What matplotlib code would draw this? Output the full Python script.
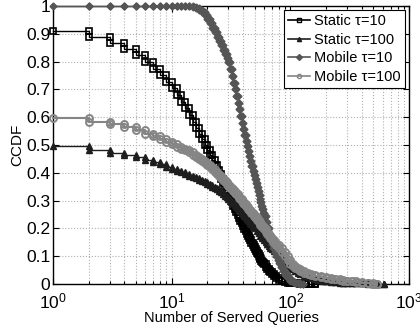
import numpy as np
import matplotlib
matplotlib.use("Agg")
import matplotlib.pyplot as plt
from matplotlib.ticker import FixedLocator, NullFormatter

plt.rcParams['font.family'] = ['Liberation Sans', 'DejaVu Sans']

# CCDF values, at x = number of served queries
static10_x = list(range(1, 61)) + [62, 64, 66, 68, 70, 73, 76, 80, 85, 90, 95, 100,
                                   110, 120, 135, 150, 160]
static10_y = [0.91, 0.89, 0.866, 0.844, 0.823, 0.797, 0.772, 0.75, 0.725, 0.704,
              0.68, 0.656, 0.632, 0.608, 0.584, 0.562, 0.54, 0.52, 0.50, 0.482,
              0.463, 0.445, 0.427, 0.41, 0.394, 0.378, 0.362, 0.347, 0.332, 0.318,
              0.305, 0.293, 0.281, 0.269, 0.258, 0.247, 0.237, 0.227, 0.218, 0.208,
              0.199, 0.19, 0.181, 0.173, 0.165, 0.157, 0.149, 0.141, 0.133, 0.125,
              0.119, 0.113, 0.107, 0.101, 0.095, 0.089, 0.084, 0.08, 0.075, 0.07,
              0.062, 0.055, 0.048, 0.042, 0.036, 0.028, 0.021, 0.015, 0.009, 0.006,
              0.004, 0.003, 0.002, 0.001, 0.0006, 0.0003, 0.0]

static100_x = list(range(1, 51)) + [52, 54, 56, 58, 60, 62, 64, 66, 68, 70, 73, 76, 80,
                                    85, 90, 95, 100, 105, 110, 115, 120, 130, 140, 150,
                                    160, 170, 180, 190, 200, 220, 240, 260, 280, 300,
                                    330, 360, 400, 450, 500, 550, 620]
static100_y = [0.497, 0.482, 0.472, 0.464, 0.455, 0.445, 0.437, 0.43, 0.422, 0.414,
               0.408, 0.402, 0.396, 0.39, 0.385, 0.38, 0.375, 0.37, 0.365, 0.36,
               0.355, 0.35, 0.345, 0.34, 0.335, 0.33, 0.324, 0.318, 0.312, 0.306,
               0.3, 0.295, 0.29, 0.284, 0.279, 0.274, 0.268, 0.262, 0.256, 0.25,
               0.245, 0.24, 0.235, 0.23, 0.225, 0.22, 0.215, 0.21, 0.205, 0.2,
               0.191, 0.182, 0.174, 0.166, 0.158, 0.151, 0.144, 0.137, 0.131, 0.125,
               0.117, 0.109, 0.099, 0.087, 0.077, 0.067, 0.059, 0.052, 0.046, 0.041,
               0.036, 0.029, 0.024, 0.02, 0.017, 0.015, 0.013, 0.011, 0.01, 0.008,
               0.006, 0.005, 0.004, 0.0035, 0.003, 0.0025, 0.002, 0.0015, 0.001,
               0.0006, 0.0]

mobile10_x = list(range(1, 61)) + [62, 64, 66, 68, 70, 72, 74, 76, 78, 80, 83, 86, 90,
                                   95, 100, 105, 110, 115, 120, 127]
mobile10_y = [1.0, 1.0, 1.0, 1.0, 1.0, 1.0, 1.0, 1.0, 1.0, 1.0,
              1.0, 1.0, 1.0, 0.999, 0.997, 0.993, 0.987, 0.978, 0.966, 0.952,
              0.937, 0.922, 0.906, 0.89, 0.874, 0.858, 0.843, 0.828, 0.813, 0.798,
              0.773, 0.748, 0.723, 0.70, 0.676, 0.652, 0.628, 0.604, 0.58, 0.556,
              0.535, 0.515, 0.497, 0.478, 0.46, 0.443, 0.425, 0.408, 0.392, 0.376,
              0.362, 0.348, 0.334, 0.32, 0.307, 0.294, 0.281, 0.268, 0.256, 0.244,
              0.222, 0.2, 0.18, 0.162, 0.145, 0.13, 0.115, 0.1, 0.087, 0.075,
              0.06, 0.046, 0.032, 0.02, 0.012, 0.007, 0.004, 0.002, 0.001, 0.0]

mobile100_x = list(range(1, 51)) + [52, 54, 56, 58, 60, 62, 64, 66, 68, 70, 73, 76, 80,
                                    85, 90, 95, 100, 105, 110, 115, 120, 130, 140, 150,
                                    160, 180, 200, 220, 240, 260, 280, 300, 330, 360,
                                    400, 450, 500, 535]
mobile100_y = [0.596, 0.583, 0.574, 0.564, 0.552, 0.541, 0.531, 0.521, 0.511, 0.502,
               0.494, 0.487, 0.48, 0.473, 0.465, 0.457, 0.45, 0.442, 0.435, 0.428,
               0.42, 0.412, 0.404, 0.396, 0.388, 0.38, 0.373, 0.366, 0.359, 0.352,
               0.346, 0.34, 0.334, 0.328, 0.322, 0.316, 0.31, 0.304, 0.298, 0.292,
               0.286, 0.281, 0.276, 0.271, 0.266, 0.261, 0.256, 0.25, 0.245, 0.24,
               0.231, 0.222, 0.213, 0.204, 0.196, 0.188, 0.18, 0.173, 0.166, 0.159,
               0.149, 0.14, 0.128, 0.114, 0.1, 0.086, 0.072, 0.064, 0.058, 0.052,
               0.047, 0.04, 0.035, 0.032, 0.03, 0.026, 0.022, 0.019, 0.016, 0.014,
               0.012, 0.011, 0.009, 0.007, 0.005, 0.003, 0.0015, 0.0]

labels = ['Static \u03c4=10', 'Static \u03c4=100', 'Mobile \u03c4=10', 'Mobile \u03c4=100']


def stairs(x, y):
    # MATLAB style stairs: markers on both corners of each step
    x = np.asarray(x, float)
    y = np.asarray(y, float)
    sx = np.repeat(x, 2)[1:]
    sy = np.repeat(y, 2)[:-1]
    return sx, sy


fig = plt.figure(figsize=(4.2, 3.29), dpi=100)
ax = fig.add_axes([0.126, 0.137, 0.848, 0.845])

styles = [
    dict(color='black', marker='s', ms=4.5, mfc='none', mew=1.2, lw=1.0),
    dict(color='#1e1e1e', marker='^', ms=5, mfc='#1e1e1e', mew=1.0, lw=1.0),
    dict(color='#555555', marker='D', ms=3.5, mfc='#555555', mew=1.0, lw=1.0),
    dict(color='#858585', marker='o', ms=5, mfc='none', mew=1.4, lw=1.5),
]
series = [(static10_x, static10_y), (static100_x, static100_y),
          (mobile10_x, mobile10_y), (mobile100_x, mobile100_y)]

handles = []
for (sx, sy), st, lab in zip(series, styles, labels):
    xx, yy = stairs(sx, sy)
    ax.plot(xx, yy, clip_on=False, zorder=3, **st)
    h, = ax.plot([], [], color=st['color'], marker=st['marker'], ms=3,
                 mfc=st['mfc'], mew=1.0, lw=1.2, label=lab)
    handles.append(h)

ax.set_xscale('log')
ax.set_xlim(1, 1000)
ax.set_ylim(0, 1)
ax.set_yticks(np.arange(0, 1.01, 0.1))
ax.set_yticklabels(['0', '0.1', '0.2', '0.3', '0.4', '0.5', '0.6', '0.7', '0.8', '0.9', '1'])
ax.xaxis.set_minor_locator(FixedLocator([m * 10 ** d for d in range(3) for m in range(2, 10)]))
ax.xaxis.set_minor_formatter(NullFormatter())

ax.grid(True, which='major', linestyle=':', color='#b0b0b0', linewidth=0.8)
ax.grid(True, which='minor', axis='x', linestyle=':', color='#b0b0b0', linewidth=0.8)
ax.set_axisbelow(True)
ax.tick_params(which='both', direction='in', top=True, right=True, labelsize=12.5,
               width=0.8)
ax.tick_params(axis='x', pad=5.5)
ax.tick_params(axis='y', pad=2)
ax.tick_params(which='major', length=4)
ax.tick_params(which='minor', length=2)
for s in ax.spines.values():
    s.set_linewidth(1.0)

ax.set_xlabel('Number of Served Queries', fontsize=10.5, labelpad=0)
ax.set_ylabel('CCDF', fontsize=11, labelpad=1)

leg = ax.legend(handles=handles, loc='upper right', fontsize=10.5, fancybox=False,
                framealpha=1, edgecolor='black', handlelength=1.5, handletextpad=0.3,
                borderaxespad=0.25, borderpad=0.3, labelspacing=0.32)
leg.get_frame().set_linewidth(0.8)

fig.savefig('out.png', dpi=100)
